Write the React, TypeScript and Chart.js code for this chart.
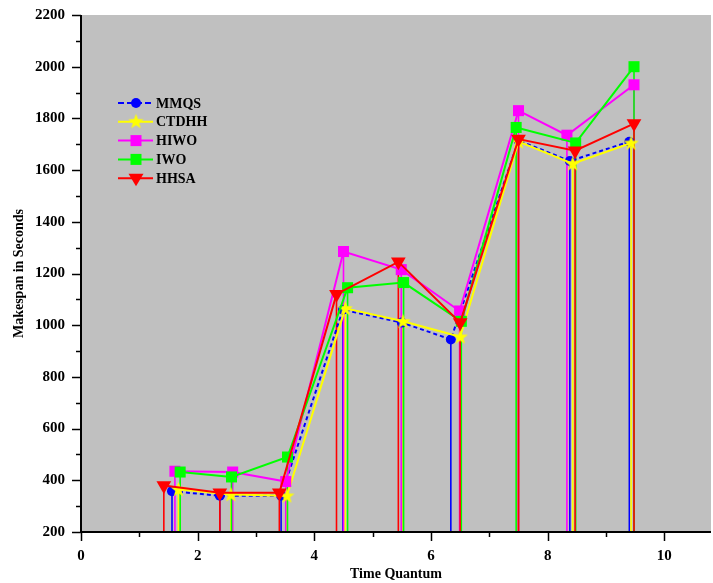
import React, { useEffect, useRef } from "react";
import { Chart, registerables } from "chart.js";

Chart.register(...registerables);

// Series values (x = time quantum position, y = makespan in seconds)
const MMQS_X = [1.56, 2.38, 3.43, 4.49, 5.50, 6.34, 7.50, 8.38, 9.40];
const MMQS_Y = [358, 340, 340, 1060, 1010, 945, 1715, 1635, 1710];
const CTDHH_X = [1.67, 2.57, 3.53, 4.53, 5.52, 6.50, 7.50, 8.43, 9.43];
const CTDHH_Y = [365, 345, 340, 1065, 1015, 955, 1710, 1625, 1705];
const HIWO_X = [1.61, 2.60, 3.51, 4.50, 5.49, 6.49, 7.50, 8.33, 9.48];
const HIWO_Y = [435, 432, 395, 1285, 1215, 1055, 1830, 1735, 1930];
const IWO_X = [1.70, 2.58, 3.54, 4.57, 5.53, 6.52, 7.46, 8.48, 9.48];
const IWO_Y = [432, 413, 490, 1145, 1165, 1015, 1765, 1705, 2000];
const HHSA_X = [1.42, 2.38, 3.40, 4.38, 5.44, 6.50, 7.50, 8.47, 9.48];
const HHSA_Y = [380, 352, 352, 1120, 1245, 1010, 1720, 1675, 1780];

const SERIES_NAMES = ["MMQS", "CTDHH", "HIWO", "IWO", "HHSA"];
const SERIES_COLORS = ["#0000FF", "#FFFF00", "#FF00FF", "#00FF00", "#FF0000"];

const X_MIN = 0;
const X_MAX = 10.8;
const Y_MIN = 200;
const Y_MAX = 2200;
const X_TITLE = "Time Quantum";
const Y_TITLE = "Makespan in Seconds";

const FONT = '"Liberation Serif", "Times New Roman", serif';

function starPath(ctx: CanvasRenderingContext2D, cx: number, cy: number, ro: number, ri: number) {
  ctx.beginPath();
  for (let i = 0; i < 10; i++) {
    const r = i % 2 === 0 ? ro : ri;
    const a = -Math.PI / 2 + (i * Math.PI) / 5;
    const px = cx + r * Math.cos(a);
    const py = cy + r * Math.sin(a);
    if (i === 0) ctx.moveTo(px, py);
    else ctx.lineTo(px, py);
  }
  ctx.closePath();
}

function makeStar(color: string) {
  const c = document.createElement("canvas");
  c.width = 17;
  c.height = 17;
  const g = c.getContext("2d")!;
  g.fillStyle = color;
  starPath(g, 8.5, 9, 8, 3.3);
  g.fill();
  return c;
}

function drawMarker(ctx: CanvasRenderingContext2D, i: number, x: number, y: number, star: HTMLCanvasElement) {
  const color = SERIES_COLORS[i];
  ctx.fillStyle = color;
  if (i === 0) {
    ctx.beginPath();
    ctx.arc(x, y, 5, 0, Math.PI * 2);
    ctx.fill();
  } else if (i === 1) {
    ctx.drawImage(star, x - 8.5, y - 9);
  } else if (i === 2 || i === 3) {
    ctx.fillRect(x - 5.5, y - 5.5, 11, 11);
  } else {
    ctx.beginPath();
    ctx.moveTo(x - 7.5, y - 4.5);
    ctx.lineTo(x + 7.5, y - 4.5);
    ctx.lineTo(x, y + 8);
    ctx.closePath();
    ctx.fill();
  }
}

export default function App() {
  const ref = useRef<HTMLCanvasElement | null>(null);

  useEffect(() => {
    if (!ref.current) return;
    const star = makeStar(SERIES_COLORS[1]);
    const xs = [MMQS_X, CTDHH_X, HIWO_X, IWO_X, HHSA_X];
    const ys = [MMQS_Y, CTDHH_Y, HIWO_Y, IWO_Y, HHSA_Y];
    const styles: any[] = ["circle", star, "rect", "rect", "triangle"];
    const radii = [5, 8, 7.8, 7.8, 8.5];

    const datasets = SERIES_NAMES.map((name, i) => ({
      label: name,
      data: xs[i].map((x, k) => ({ x, y: ys[i][k] })),
      borderColor: SERIES_COLORS[i],
      backgroundColor: SERIES_COLORS[i],
      borderWidth: 2,
      borderDash: i === 0 ? [4, 3] : [],
      pointStyle: styles[i],
      pointRadius: radii[i],
      pointRotation: i === 4 ? 180 : 0,
      pointBackgroundColor: SERIES_COLORS[i],
      pointBorderColor: SERIES_COLORS[i],
      pointBorderWidth: 0,
      tension: 0,
      order: 4 - i,
    }));

    const bgPlugin = {
      id: "bg",
      beforeDraw(chart: any) {
        const { ctx, chartArea } = chart;
        ctx.save();
        ctx.fillStyle = "#C0C0C0";
        ctx.fillRect(chartArea.left, chartArea.top, chartArea.right - chartArea.left, chartArea.bottom - chartArea.top);
        ctx.restore();
      },
    };

    const dropPlugin = {
      id: "drops",
      beforeDatasetsDraw(chart: any) {
        const { ctx, chartArea } = chart;
        ctx.save();
        ctx.lineWidth = 1.6;
        for (let i = 0; i < chart.data.datasets.length; i++) {
          const meta = chart.getDatasetMeta(i);
          ctx.strokeStyle = SERIES_COLORS[i];
          meta.data.forEach((pt: any) => {
            ctx.beginPath();
            ctx.moveTo(pt.x, pt.y);
            ctx.lineTo(pt.x, chartArea.bottom);
            ctx.stroke();
          });
        }
        ctx.restore();
      },
    };

    const axesPlugin = {
      id: "axesTicks",
      afterDraw(chart: any) {
        const { ctx, chartArea, scales } = chart;
        const xs_ = scales.x;
        const ys_ = scales.y;
        ctx.save();
        ctx.strokeStyle = "#000";
        ctx.lineWidth = 1.5;
        for (let v = Y_MIN; v <= Y_MAX; v += 100) {
          const py = Math.round(ys_.getPixelForValue(v)) + 0.5;
          const len = v % 200 === 0 ? 9 : 5;
          ctx.beginPath();
          ctx.moveTo(chartArea.left - len, py);
          ctx.lineTo(chartArea.left, py);
          ctx.stroke();
        }
        for (let v = 0; v <= X_MAX; v += 1) {
          const px = Math.round(xs_.getPixelForValue(v)) + 0.5;
          const len = v % 2 === 0 ? 9 : 5;
          ctx.beginPath();
          ctx.moveTo(px, chartArea.bottom);
          ctx.lineTo(px, chartArea.bottom + len);
          ctx.stroke();
        }
        ctx.lineWidth = 2;
        ctx.beginPath();
        ctx.moveTo(chartArea.left, chartArea.top);
        ctx.lineTo(chartArea.left, chartArea.bottom);
        ctx.lineTo(chartArea.right, chartArea.bottom);
        ctx.stroke();

        // legend
        const lx0 = chartArea.left + 37;
        const lx1 = chartArea.left + 72;
        const mx = chartArea.left + 55;
        const tx = chartArea.left + 75;
        const rowY0 = chartArea.top + 88;
        const rowDy = 18.8;
        ctx.font = `bold 14px ${FONT}`;
        ctx.textBaseline = "middle";
        ctx.textAlign = "left";
        SERIES_NAMES.forEach((name, i) => {
          const y = rowY0 + i * rowDy;
          ctx.strokeStyle = SERIES_COLORS[i];
          ctx.lineWidth = 2;
          ctx.setLineDash(i === 0 ? [6, 3] : []);
          ctx.beginPath();
          ctx.moveTo(lx0, y);
          ctx.lineTo(lx1, y);
          ctx.stroke();
          ctx.setLineDash([]);
          drawMarker(ctx, i, mx, y, star);
          ctx.fillStyle = "#000";
          ctx.fillText(name, tx, y + 1);
        });
        ctx.restore();
      },
    };

    const chart = new Chart(ref.current, {
      type: "line",
      data: { datasets: datasets as any },
      options: {
        animation: false,
        responsive: false,
        devicePixelRatio: 1,
        layout: { autoPadding: false, padding: { top: 15, right: 2, left: 0, bottom: 0 } },
        plugins: {
          legend: { display: false },
          tooltip: { enabled: false },
        },
        scales: {
          x: {
            type: "linear",
            min: X_MIN,
            max: X_MAX,
            grid: { display: false, drawTicks: false },
            border: { display: false },
            ticks: {
              stepSize: 2,
              includeBounds: false,
              padding: 15,
              color: "#000",
              font: { family: FONT, size: 15, weight: "bold" },
              callback: (v: any) => (Number(v) % 2 === 0 ? String(v) : ""),
            },
            title: {
              display: true,
              text: X_TITLE,
              color: "#000",
              font: { family: FONT, size: 14, weight: "bold" },
              padding: { top: 0, bottom: 0 },
            },
            afterFit(scale: any) {
              scale.height = 51;
              scale.paddingLeft = 0;
              scale.paddingRight = 0;
            },
          },
          y: {
            type: "linear",
            min: Y_MIN,
            max: Y_MAX,
            grid: { display: false, drawTicks: false },
            border: { display: false },
            ticks: {
              stepSize: 200,
              padding: 16,
              color: "#000",
              font: { family: FONT, size: 15, weight: "bold" },
              callback: (v: any) => String(v),
            },
            title: {
              display: true,
              text: Y_TITLE,
              color: "#000",
              font: { family: FONT, size: 14, weight: "bold" },
              padding: { top: 11, bottom: 0 },
            },
            afterFit(scale: any) {
              scale.width = 81;
              scale.paddingTop = 0;
              scale.paddingBottom = 0;
            },
          },
        },
      },
      plugins: [bgPlugin, dropPlugin, axesPlugin],
    });

    return () => chart.destroy();
  }, []);

  return (
    <div style={{ position: "absolute", left: 0, top: 0, width: 713, height: 583, background: "#fff" }}>
      <canvas ref={ref} width={713} height={583} style={{ display: "block" }} />
    </div>
  );
}
